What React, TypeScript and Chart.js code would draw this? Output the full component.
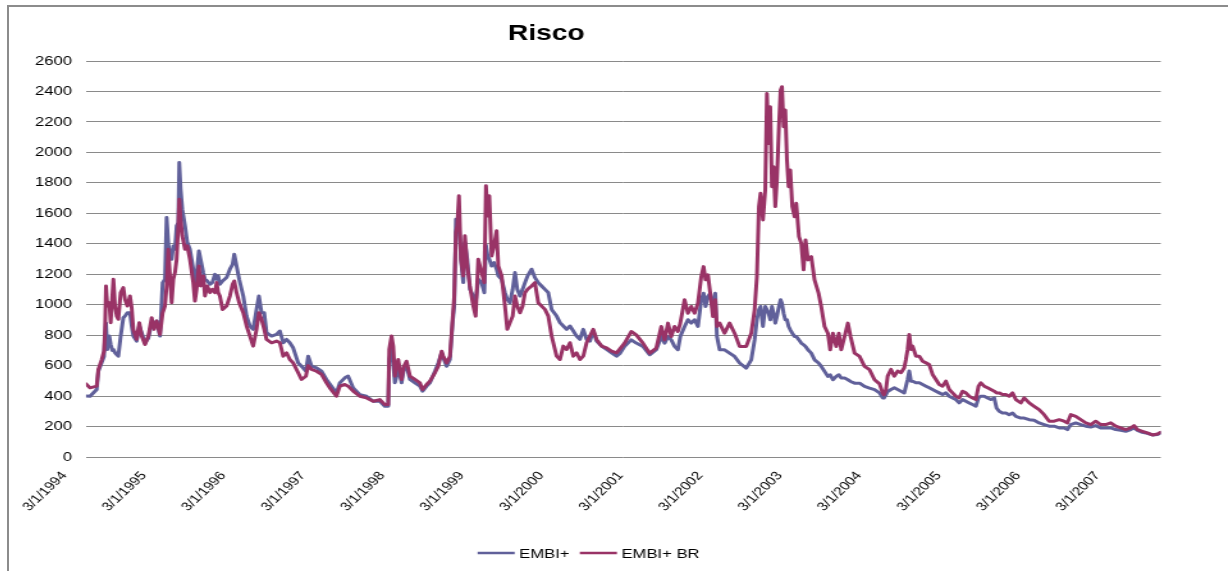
import React, { useEffect, useRef } from "react";
import { Chart, registerables } from "chart.js";

Chart.register(...registerables);

// ---- DATA ----
const chartTitle = "Risco";
const seriesNames = ["EMBI+", "EMBI+ BR"];

// time in decimal years (1994.0 = 3/1/1994)
const times = [
  1994.000, 1994.050, 1994.134, 1994.155, 1994.197, 1994.226, 1994.239, 1994.251, 1994.268, 1994.293,
  1994.310, 1994.331, 1994.344, 1994.365, 1994.386, 1994.406, 1994.436, 1994.469, 1994.490, 1994.520,
  1994.553, 1994.574, 1994.595, 1994.637, 1994.670, 1994.700, 1994.742, 1994.784, 1994.826, 1994.855,
  1994.888, 1994.930, 1994.964, 1994.993, 1995.014, 1995.035, 1995.056, 1995.077, 1995.098, 1995.119,
  1995.140, 1995.161, 1995.173, 1995.190, 1995.211, 1995.245, 1995.274, 1995.307, 1995.349, 1995.370,
  1995.391, 1995.420, 1995.441, 1995.475, 1995.496, 1995.525, 1995.559, 1995.588, 1995.622, 1995.643,
  1995.663, 1995.684, 1995.718, 1995.768, 1995.810, 1995.844, 1995.865, 1995.894, 1995.927, 1995.978,
  1996.020, 1996.062, 1996.103, 1996.145, 1996.175, 1996.208, 1996.242, 1996.271, 1996.334, 1996.397,
  1996.439, 1996.481, 1996.523, 1996.564, 1996.606, 1996.669, 1996.711, 1996.766, 1996.795, 1996.837,
  1996.900, 1996.963, 1997.025, 1997.067,
  1997.151, 1997.193, 1997.256, 1997.298, 1997.361, 1997.445, 1997.529, 1997.613, 1997.697, 1997.760,
  1997.802, 1997.815, 1997.844, 1997.865, 1997.886, 1997.907, 1997.928, 1997.970, 1997.999, 1998.033,
  1998.075, 1998.138, 1998.201, 1998.234, 1998.285, 1998.327, 1998.390, 1998.432, 1998.474, 1998.495,
  1998.537, 1998.579, 1998.612, 1998.633, 1998.654, 1998.671, 1998.692, 1998.717, 1998.746, 1998.767,
  1998.797, 1998.830, 1998.872, 1998.902, 1998.935, 1998.977, 1999.011, 1999.032, 1999.053, 1999.074,
  1999.103, 1999.133, 1999.166, 1999.187, 1999.229, 1999.271, 1999.300, 1999.334, 1999.368, 1999.397,
  1999.426, 1999.460, 1999.493, 1999.523, 1999.556, 1999.606, 1999.648, 1999.690, 1999.732, 1999.774,
  1999.816, 1999.858, 1999.921, 1999.963, 2000.005, 2000.047, 2000.089, 2000.131, 2000.172, 2000.214,
  2000.256, 2000.298, 2000.340, 2000.382, 2000.424, 2000.487, 2000.549, 2000.612, 2000.675, 2000.717,
  2000.776, 2000.860, 2000.923, 2001.007, 2001.091, 2001.175, 2001.238, 2001.280, 2001.322, 2001.363,
  2001.405, 2001.447, 2001.477, 2001.531, 2001.573, 2001.615, 2001.657, 2001.699, 2001.741, 2001.770,
  2001.795, 2001.825, 2001.854, 2001.888, 2001.917, 2001.938, 2001.972, 2002.034, 2002.097, 2002.160,
  2002.223, 2002.307, 2002.370, 2002.412, 2002.441, 2002.466, 2002.487, 2002.517, 2002.546, 2002.567,
  2002.588, 2002.609, 2002.630, 2002.651, 2002.672, 2002.693, 2002.718, 2002.739, 2002.756, 2002.777,
  2002.798, 2002.819, 2002.840, 2002.861, 2002.886, 2002.915, 2002.936, 2002.970, 2002.999, 2003.028,
  2003.053, 2003.083, 2003.125, 2003.166, 2003.217, 2003.250, 2003.292, 2003.334, 2003.363, 2003.397,
  2003.439, 2003.472, 2003.502, 2003.544, 2003.586, 2003.619, 2003.670, 2003.733, 2003.795, 2003.858,
  2003.921, 2003.984, 2004.023, 2004.039, 2004.065, 2004.086, 2004.128, 2004.170, 2004.212, 2004.254,
  2004.295, 2004.316, 2004.337, 2004.358, 2004.379, 2004.400, 2004.442, 2004.484, 2004.526, 2004.568,
  2004.609, 2004.651, 2004.693, 2004.735, 2004.777, 2004.819, 2004.861, 2004.903, 2004.944, 2004.986,
  2005.028, 2005.070, 2005.112, 2005.154, 2005.196, 2005.229, 2005.259, 2005.301, 2005.343, 2005.385,
  2005.427, 2005.456, 2005.489, 2005.531, 2005.573, 2005.615, 2005.657, 2005.699, 2005.762, 2005.804,
  2005.867, 2005.929, 2005.992, 2006.055, 2006.118, 2006.181, 2006.244, 2006.306, 2006.348, 2006.390,
  2006.453, 2006.516, 2006.579, 2006.642, 2006.704, 2006.767, 2006.830, 2006.893, 2006.956, 2007.019,
  2007.082, 2007.145, 2007.187, 2007.229, 2007.291, 2007.354, 2007.417, 2007.480, 2007.522,
];

const embi = [
  400, 399, 443, 563, 620, 660, 794, 880, 706, 794,
  740, 700, 706, 684, 673, 662, 794, 914, 925, 947,
  947, 860, 794, 761, 860, 816, 750, 780, 882, 850,
  893, 794, 1145, 1167, 1572, 1400, 1320, 1298, 1386, 1364,
  1518, 1540, 1934, 1759, 1627, 1518, 1408, 1364, 1233, 1101,
  1189, 1353, 1298, 1211, 1167, 1156, 1134, 1145, 1199, 1167,
  1189, 1134, 1156, 1178, 1233, 1265, 1331, 1254, 1167, 1057,
  925, 860, 838, 969, 1057, 947, 947, 816, 794, 805,
  827, 750, 772, 750, 717, 618, 596, 563, 662, 596,
  585, 563, 509, 480,
  421, 487, 520, 531, 454, 410, 399, 366, 366, 333,
  333, 640, 706, 618, 487, 531, 596, 487, 575, 596,
  509, 487, 465, 432, 465, 487, 563, 618, 684, 651,
  596, 640, 882, 991, 1561, 1474, 1540, 1298, 1145, 1408,
  1298, 1101, 1057, 1013, 1167, 1145, 1079, 1390, 1320, 1300,
  1254, 1276, 1233, 1189, 1167, 1079, 1035, 1013, 1101, 1211,
  1101, 1057, 1101, 1145, 1189, 1233, 1178, 1145, 1123, 1101,
  1079, 969, 925, 882, 860, 838, 860, 827, 794, 772,
  838, 772, 761, 827, 761, 728, 706, 684, 662, 680,
  726, 769, 748, 726, 671, 704, 791, 748, 791, 769,
  726, 704, 791, 857, 901, 879, 901, 857, 1032, 1075,
  988, 1054, 1075, 966, 1075, 791, 704, 704, 682, 660,
  617, 584, 638, 769, 901, 966, 988, 857, 988, 966,
  944, 901, 988, 944, 879, 922, 988, 1032, 1010, 944,
  901, 901, 857, 835, 813, 791, 791, 769, 748, 737,
  726, 704, 682, 638, 617, 595, 562, 529, 540, 507,
  529, 540, 518, 518, 507, 496, 485, 485, 463, 452,
  442, 421, 388, 387, 410, 430, 443, 454, 443, 432,
  421, 465, 509, 564, 498, 498, 487, 487, 476, 465,
  454, 443, 432, 421, 410, 421, 399, 388, 377, 355,
  377, 366, 355, 344, 333, 388, 399, 399, 388, 377,
  388, 322, 300, 289, 289, 278, 289, 267, 256, 256,
  245, 241, 224, 213, 202, 202, 191, 191, 180, 213,
  224, 213, 202, 197, 206, 191, 191, 191, 180, 175,
  169, 180, 191, 175, 162, 155, 145, 148, 158,
];

const embiBr = [
  480, 454, 465, 575, 640, 695, 838, 1123, 991, 1013,
  882, 1057, 1167, 991, 925, 904, 1079, 1112, 1035, 991,
  1057, 980, 838, 772, 882, 794, 739, 794, 914, 838,
  893, 805, 947, 991, 1123, 1364, 1189, 1013, 1167, 1211,
  1298, 1518, 1693, 1561, 1452, 1364, 1386, 1298, 1145, 1024,
  1101, 1254, 1123, 1189, 1057, 1123, 1079, 1101, 1079, 1145,
  1079, 1057, 969, 991, 1057, 1134, 1156, 1079, 1013, 947,
  860, 794, 728, 838, 947, 904, 838, 772, 750, 761,
  750, 662, 684, 640, 618, 553, 509, 530, 600, 575,
  563, 542, 487, 454,
  399, 465, 476, 465, 432, 399, 388, 366, 377, 344,
  344, 706, 794, 728, 531, 596, 640, 509, 596, 629,
  531, 509, 487, 443, 476, 498, 553, 596, 695, 662,
  618, 662, 904, 1057, 1474, 1518, 1715, 1298, 1189, 1452,
  1254, 1123, 991, 925, 1298, 1211, 1145, 1781, 1583, 1715,
  1320, 1386, 1485, 1254, 1189, 991, 838, 882, 925, 1057,
  991, 947, 991, 1079, 1101, 1123, 1145, 1013, 991, 969,
  925, 794, 662, 640, 728, 706, 750, 662, 684, 640,
  662, 750, 794, 838, 772, 728, 717, 695, 684, 710,
  748, 824, 802, 748, 682, 715, 857, 769, 879, 791,
  857, 824, 879, 1032, 944, 988, 944, 1010, 1185, 1250,
  1163, 1196, 1075, 922, 1032, 857, 879, 813, 879, 813,
  726, 726, 813, 966, 1185, 1644, 1731, 1556, 1753, 2387,
  2059, 2300, 1775, 1906, 1644, 1819, 2168, 2409, 2431, 2168,
  2278, 1950, 1775, 1884, 1644, 1578, 1666, 1447, 1403, 1229,
  1425, 1294, 1316, 1163, 1075, 988, 857, 813, 704, 813,
  726, 813, 704, 791, 879, 791, 682, 660, 595, 573,
  507, 480, 421, 409, 443, 531, 575, 531, 564, 553,
  586, 640, 706, 805, 706, 728, 662, 662, 629, 618,
  607, 542, 509, 476, 465, 498, 443, 421, 399, 388,
  432, 421, 399, 388, 377, 465, 487, 465, 454, 443,
  432, 421, 421, 410, 410, 399, 421, 377, 355, 388,
  355, 333, 311, 278, 235, 235, 245, 235, 224, 278,
  267, 245, 224, 213, 235, 213, 213, 224, 202, 191,
  180, 191, 206, 180, 169, 158, 145, 151, 162,
];

const tickYears = [1994, 1995, 1996, 1997, 1998, 1999, 2000, 2001, 2002, 2003, 2004, 2005, 2006, 2007];
const tickLabels = [
  "3/1/1994", "3/1/1995", "3/1/1996", "3/1/1997", "3/1/1998", "3/1/1999", "3/1/2000",
  "3/1/2001", "3/1/2002", "3/1/2003", "3/1/2004", "3/1/2005", "3/1/2006", "3/1/2007",
];
const yMin = 0;
const yMax = 2600;
const yStep = 200;
const xMin = 1994;
const xMax = 2007.522;

// ---- LAYOUT / STYLE ----
const SX = 1.28; // horizontal stretch of the whole picture
const CANVAS_LEFT = -70; // screen px
const CANVAS_TOP = 5;
const CANVAS_W = 963; // logical px
const CANVAS_H = 566;
const Y_AXIS_W = 121.9;
const X_AXIS_H = 114;
const LEGEND_CX = 514.5;
const LEGEND_Y = 548;
const FONT = '"Liberation Sans", Arial, Helvetica, sans-serif';
const COLORS = ["#60609A", "#993366"];

const customLegend = {
  id: "customLegend",
  afterDraw(chart: any) {
    const ctx = chart.ctx;
    ctx.save();
    ctx.font = `13px ${FONT}`;
    const lineLen = 29;
    const gapText = 3.5;
    const gapItem = 8;
    const items = chart.data.datasets.map((ds: any) => ({ text: ds.label, color: ds.borderColor }));
    const widths = items.map((it: any) => lineLen + gapText + ctx.measureText(it.text).width);
    const total = widths.reduce((a: number, b: number) => a + b, 0) + gapItem * (items.length - 1);
    let x = LEGEND_CX - total / 2;
    items.forEach((it: any, i: number) => {
      ctx.strokeStyle = it.color;
      ctx.lineWidth = 2.5;
      ctx.beginPath();
      ctx.moveTo(x, LEGEND_Y);
      ctx.lineTo(x + lineLen, LEGEND_Y);
      ctx.stroke();
      ctx.fillStyle = "#000";
      ctx.textAlign = "left";
      ctx.textBaseline = "middle";
      ctx.fillText(it.text, x + lineLen + gapText, LEGEND_Y + 1);
      x += widths[i] + gapItem;
    });
    ctx.restore();
  },
};

export default function App() {
  const canvasRef = useRef<HTMLCanvasElement | null>(null);

  useEffect(() => {
    if (!canvasRef.current) return;
    Chart.defaults.font.family = FONT;
    const chart = new Chart(canvasRef.current, {
      type: "line",
      data: {
        datasets: [
          {
            label: seriesNames[0],
            data: times.map((t, i) => ({ x: t, y: embi[i] })),
            borderColor: COLORS[0],
            backgroundColor: COLORS[0],
            borderWidth: 3,
            pointRadius: 0,
            tension: 0,
            order: 1,
          },
          {
            label: seriesNames[1],
            data: times.map((t, i) => ({ x: t, y: embiBr[i] })),
            borderColor: COLORS[1],
            backgroundColor: COLORS[1],
            borderWidth: 3,
            pointRadius: 0,
            tension: 0,
            order: 0,
          },
        ],
      },
      options: {
        animation: false,
        responsive: true,
        maintainAspectRatio: false,
        layout: { padding: 0 },
        elements: { line: { borderJoinStyle: "round", borderCapStyle: "round" } },
        plugins: {
          legend: { display: false },
          tooltip: { enabled: false },
          title: {
            display: true,
            text: chartTitle,
            color: "#000",
            font: { size: 22, weight: "bold", family: FONT },
            padding: { top: 16, bottom: 13.6 },
          },
        },
        scales: {
          x: {
            type: "linear",
            min: xMin,
            max: xMax,
            afterBuildTicks: (scale: any) => {
              scale.ticks = tickYears.map((v) => ({ value: v }));
            },
            afterFit: (scale: any) => {
              scale.height = X_AXIS_H;
            },
            ticks: {
              autoSkip: false,
              minRotation: 50,
              maxRotation: 50,
              labelOffset: -17,
              padding: 12,
              color: "#000",
              font: { size: 12, family: FONT },
              callback: (_v: any, index: number) => tickLabels[index],
            },
            grid: { display: false, drawTicks: false },
            border: { display: false },
          },
          y: {
            min: yMin,
            max: yMax,
            afterFit: (scale: any) => {
              scale.width = Y_AXIS_W;
            },
            ticks: {
              stepSize: yStep,
              padding: 11,
              color: "#000",
              font: { size: 13, family: FONT },
              callback: (v: any) => String(v),
            },
            grid: { color: "#8a8a8a", lineWidth: 1, drawTicks: false },
            border: { display: false },
          },
        },
      },
      plugins: [customLegend],
    });
    return () => chart.destroy();
  }, []);

  return (
    <div
      style={{
        position: "fixed",
        left: 0,
        top: 0,
        width: "100vw",
        height: "100vh",
        overflow: "hidden",
        background: "#fff",
      }}
    >
      <div
        style={{
          position: "absolute",
          left: 7,
          top: 5,
          width: 1300,
          height: 700,
          borderTop: "2px solid #8c8c8c",
          borderLeft: "2px solid #8c8c8c",
          boxSizing: "border-box",
        }}
      />
      <div
        style={{
          position: "absolute",
          left: CANVAS_LEFT,
          top: CANVAS_TOP,
          width: CANVAS_W,
          height: CANVAS_H,
          transform: `scaleX(${SX})`,
          transformOrigin: "0 0",
        }}
      >
        <canvas ref={canvasRef} />
      </div>
    </div>
  );
}
